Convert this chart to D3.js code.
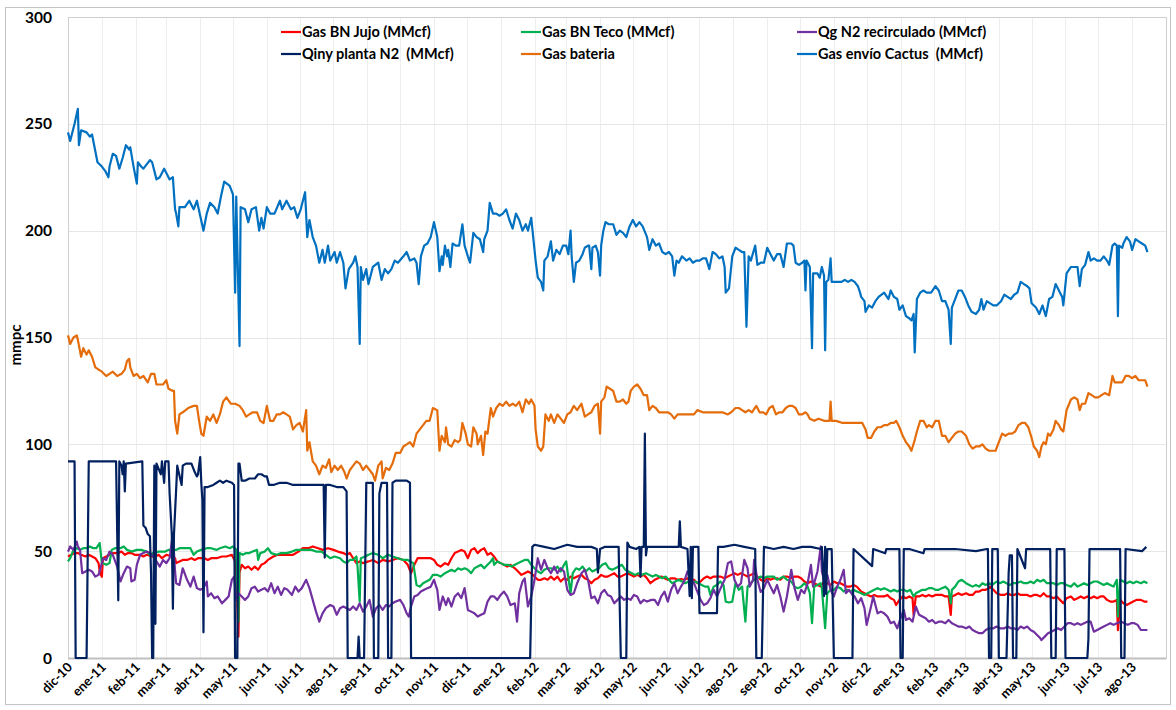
<!DOCTYPE html>
<html>
<head>
<meta charset="utf-8">
<script src="https://cdn.jsdelivr.net/npm/d3@7"></script>
<style>
  body { margin: 0; background: #fff; }
  text { font-family: Lato, "Liberation Sans", sans-serif; font-weight: bold; fill: #000; }
</style>
</head>
<body>
<svg id="chart" width="1176" height="710"></svg>
<script>
// days are counted from 1 dic 2010
var startDate = new Date(2010, 11, 1),
    endDate = new Date(2013, 8, 1);

var monthNames = ["ene", "feb", "mar", "abr", "may", "jun", "jul", "ago", "sep", "oct", "nov", "dic"];
var yTicks = [0, 50, 100, 150, 200, 250, 300];

var seriesNames = ["Gas BN Jujo (MMcf)", "Gas BN Teco (MMcf)", "Qg N2 recirculado (MMcf)",
                   "Qiny planta N2  (MMcf)", "Gas bateria", "Gas envío Cactus  (MMcf)"];
var seriesColors = ["#ff0000", "#00b050", "#7030a0", "#002060", "#e46c0a", "#0070c0"];

var jujo = [[0,47.5],[3,48.3],[6,49.1],[9,49.1],[12,48.3],[16,47.5],[19,48.3],[22,47.5],[25,46.7],[28,44.4],[29,40.5],[31,38],[32,46.7],[35,47.5],[38,48.3],[41,49.1],[46,49.1],[49,49.8],[52,48.3],[55,49.1],[58,49.1],[61,48.3],[66,48.3],[69,47.5],[72,48.3],[77,47.5],[80,47.5],[83,48.3],[86,46.7],[90,48.3],[95,47.5],[98,46.7],[99,44.4],[102,45.2],[105,45.9],[109,45.9],[113,46.7],[116,45.9],[119,46.7],[122,46.7],[125,46.7],[128,45.9],[131,46.7],[136,46.7],[141,47.5],[145,47.5],[150,48.3],[153,45.2],[154,40.5],[156,10],[157,40],[159,43.6],[162,42],[165,42.8],[168,41.3],[171,42.8],[174,41.3],[177,43.6],[180,44.4],[183,45.9],[188,47.5],[192,48.3],[197,48.3],[201,48.3],[206,48.3],[211,49.8],[215,51.4],[220,51.4],[224,52.2],[229,51.4],[233,50.6],[238,51.4],[243,50.6],[247,49.8],[252,49.1],[255,48.3],[258,49.1],[261,46.7],[264,44.4],[267,45.2],[270,44.4],[275,45.2],[279,45.9],[284,44.4],[288,45.9],[293,45.2],[297,45.9],[302,46.7],[307,45.9],[311,43.6],[314,39.7],[317,43.6],[320,46.7],[323,46.7],[328,46.7],[332,46.7],[335,45.9],
  [338,43.6],[341,42.8],[345,44.4],[348,43.6],[351,46.7],[354,49.1],[357,49.8],[360,50.6],[363,49.8],[366,46.7],[369,50.6],[372,51.4],[375,49.1],[378,50.6],[381,51.4],[384,48.3],[387,49.1],[390,47.5],[393,45.2],[396,44.4],[399,43.6],[402,42.8],[405,43.6],[409,42],[412,40.5],[415,38.9],[418,39.7],[421,40.5],[424,39.7],[427,38.1],[430,36.6],[433,36.6],[436,37.3],[439,36.6],[442,38.1],[445,36.6],[448,38.1],[451,35.8],[454,37.3],[457,36.6],[460,38.1],[463,37.3],[466,38.1],[470,38.9],[473,37.3],[476,36.6],[479,35],[482,36.6],[485,37.3],[488,38.9],[491,38.1],[494,38.1],[497,38.9],[500,39.7],[503,38.1],[506,38.1],[509,38.9],[512,39.7],[515,38.9],[518,38.1],[521,38.9],[524,38.1],[527,38.9],[530,37.3],[533,35],[537,36.6],[540,37.3],[543,38.1],[546,37.3],[549,36.6],[552,37.3],[555,37.3],[558,36.6],[561,37],[564,36.6],[567,37.3],[570,37],[573,36.6],[576,35],[579,35.8],[582,37.3],[585,38.1],[588,37.3],[591,38.1],[594,38.1],[597,38.1],[601,37.3],[604,38.1],[607,38.9],[610,39.7],[613,38.9],[616,39.7],[619,38.9],[622,38.1],[625,38.9],[628,39.7],[631,38.1],[634,36.6],[637,35.8],[640,37.3],[643,36.6],[646,37.3],[649,37.3],[652,36.6],[655,38.1],[658,38.1],[662,37.3],[665,38.1],[668,38.1],
  [671,37.3],[674,35.8],[677,35],[680,35.8],[683,35],[686,34.2],[689,33.4],[692,35.8],[695,35],[698,34.2],[701,35.8],[704,35],[707,35],[710,34.2],[713,33.4],[716,33.4],[719,34.2],[722,33.4],[726,31.1],[729,30.3],[732,29.5],[735,28.8],[738,29.5],[741,28.8],[744,28.8],[747,28.8],[750,29.5],[753,28],[756,27.2],[758,24.8],[761,27.2],[764,28.8],[767,28],[770,28.8],[773,28],[774,20.2],[776,28.8],[779,28.8],[782,29.5],[785,28.8],[788,29.5],[791,28.8],[794,29.5],[797,29.5],[800,29.5],[803,28.8],[806,28.8],[808,20.2],[809,28.8],[812,29.5],[815,30.3],[818,29.5],[822,30.3],[825,29.5],[828,29.5],[831,31.1],[834,31.1],[837,31.9],[840,31.9],[843,32.7],[844,33.4],[847,31.9],[850,30.3],[854,29.5],[857,29.5],[860,30.3],[863,29.5],[866,29.5],[869,30.3],[872,29.5],[875,29.5],[878,29.5],[881,28.8],[884,29.5],[887,29.5],[890,28.8],[893,30.3],[896,28.8],[899,28.8],[902,28],[905,28.8],[908,27.2],[911,25.6],[914,28],[918,28.8],[921,27.2],[924,28],[927,28.8],[930,28],[933,28.8],[936,28],[939,28.8],[942,28],[945,28.8],[948,28.8],[951,27.2],[954,26.4],[957,26.4],[960,27.2],[961,13],[963,27.2],[966,25.6],[969,24.8],[972,25.6],[975,26.4],[978,27.2],[982,27.2],[985,26.4],[988,26.4]];

var teco = [[0,45.2],[2,46.7],[5,50.6],[8,51.4],[11,50.6],[14,51.4],[17,51.4],[20,52.2],[23,51.4],[26,51.4],[29,53.8],[31,44.4],[32,44.4],[35,43.6],[38,44.4],[40,50.6],[43,51.4],[48,51.4],[51,52.2],[54,50.6],[58,49.8],[63,50.6],[67,50.6],[72,49.8],[75,48.3],[78,49.1],[83,49.8],[86,49.8],[89,49.8],[92,50.6],[96,50.6],[99,50.6],[102,51.4],[107,51.4],[112,51.4],[115,48.3],[118,49.8],[122,50.6],[127,51.4],[131,51.4],[136,50.6],[139,51.4],[144,52.2],[148,51.4],[151,52.2],[154,50.6],[156,17],[157,49.1],[160,48.3],[163,49.1],[166,49.1],[169,49.8],[173,50.6],[174,45.9],[176,49.1],[180,49.8],[183,51.4],[186,49.1],[191,48.3],[195,49.1],[200,49.1],[205,49.8],[209,50.6],[214,50.6],[218,50.6],[223,50.6],[227,49.8],[232,49.8],[236,48.3],[240,46.7],[244,47.5],[249,46.7],[252,45.2],[255,44.4],[258,45.9],[261,45.9],[264,47.5],[265,42.8],[267,26.4],[268,46.7],[272,47.5],[275,48.3],[279,49.1],[284,48.3],[288,46.7],[293,48.3],[297,47.5],[302,46.7],[307,45.9],[311,45.9],[316,44.4],[319,34.2],[322,33.4],[325,35],[328,35.8],[331,36.6],[334,38.9],
  [338,38.9],[341,38.1],[345,39.7],[348,40.5],[351,41.3],[354,40.5],[357,42],[360,41.3],[363,42],[366,41.3],[369,39.7],[372,42],[375,42.8],[378,43.6],[381,42],[384,43.6],[387,45.2],[389,46.7],[390,43.6],[393,45.2],[396,44.4],[399,43.6],[403,43.6],[406,42.8],[409,43.6],[412,44.4],[415,45.2],[418,45.9],[421,45.9],[424,43.6],[427,42],[430,40.5],[433,39.7],[436,41.3],[439,42],[442,42],[445,41.3],[448,42.8],[451,40.5],[454,43.6],[456,45.2],[457,41.3],[460,30.3],[462,39.7],[465,42],[468,41.3],[471,42.8],[474,40.5],[477,42],[480,40.5],[483,41.3],[486,42],[489,43.6],[492,44.4],[495,42],[498,41.3],[501,42],[504,42.8],[507,43.6],[510,41.3],[513,40.5],[516,39.7],[519,38.9],[522,39.7],[525,38.9],[529,39.7],[532,38.9],[535,38.1],[538,38.9],[541,38.1],[544,37.3],[547,38.1],[550,36.6],[553,35],[556,35.8],[559,36.6],[562,35.8],[565,35],[568,35.8],[571,35],[574,35.8],[577,35],[580,34.2],[583,33.4],[586,33.4],[588,29.5],[591,33.4],[594,34.2],[597,35.8],[600,34.2],[602,26.4],[605,26],[608,26.4],[611,35],[614,31.9],[617,33.4],[620,17],[622,33.4],[625,35],[628,36.6],[631,37.3],[634,38.1],[637,37.3],[640,38.1],[643,38.1],[646,38.1],[649,36.6],[652,37.3],[655,38.1],[658,36.6],[662,35.8],[665,33.4],[668,32.7],
  [671,33.4],[674,35],[677,33.4],[679,30.3],[681,16.3],[683,33.4],[686,34.2],[689,35],[690,32.7],[693,14],[695,30.3],[698,31.9],[701,31.9],[704,33.4],[707,32.7],[710,31.1],[713,31.9],[716,31.1],[719,31.9],[722,31.1],[726,30.3],[729,29.5],[732,30.3],[735,31.1],[738,31.9],[741,32.7],[744,31.9],[747,32.7],[750,31.9],[753,31.1],[756,31.9],[759,31.1],[762,31.9],[765,31.9],[768,31.1],[771,31.9],[774,28.8],[776,30.3],[779,31.1],[782,31.9],[785,31.9],[788,32.7],[791,32.7],[794,31.9],[797,31.9],[800,32.7],[803,33.4],[806,31.9],[808,25.6],[809,31.9],[812,33.4],[815,35.8],[818,36.6],[822,35],[825,34.2],[828,33.4],[831,34.2],[834,33.4],[837,35],[840,34.2],[843,35],[846,34.2],[850,35.8],[853,35],[856,35.8],[859,35],[862,34.2],[865,35],[868,35],[872,35.8],[875,35],[878,35],[881,35.8],[884,35],[887,36.6],[890,35.8],[893,36.6],[896,35],[899,35],[902,35],[905,34.2],[908,35],[911,35],[914,34.2],[918,33.4],[921,35],[924,33.4],[927,34.2],[930,35],[933,34.2],[936,35],[939,35.8],[942,35.8],[945,35],[948,34.2],[951,35],[954,34.2],[957,33.4],[960,36.6],[961,19.4],[963,36.6],[966,35.8],[969,35],[972,35.8],[975,35],[978,35.8],[982,35],[985,35.8],[988,35]];

var recirculado = [[0,49.8],[2,52.2],[5,50.6],[8,54.5],[9,52.2],[11,50.6],[13,39.7],[16,40.5],[19,41.3],[22,40.5],[25,38.1],[28,38.9],[31,44.4],[32,46.7],[35,45.9],[38,49.8],[41,48.3],[45,42.8],[48,35.8],[51,39.7],[54,42.8],[57,42],[58,35.8],[61,36.6],[63,43.6],[66,48.3],[69,49.1],[72,49.8],[75,49.1],[78,47.5],[81,45.2],[84,42.8],[87,45.9],[90,44.4],[93,46.7],[96,58.4],[98,40.5],[99,35],[102,34.2],[105,42],[109,36.6],[112,33.4],[115,38.1],[118,32.7],[121,31.9],[124,32.7],[127,35.8],[128,28.8],[131,30.3],[134,28],[137,28.8],[141,25.6],[144,27.2],[147,28.8],[150,36.6],[152,38.1],[154,27.2],[156,30.3],[159,28.8],[162,27.2],[165,28.8],[168,32.7],[171,33.4],[174,31.1],[177,31.9],[180,32.7],[183,31.1],[186,35],[189,30.3],[192,33.4],[195,29.5],[198,32.7],[201,31.9],[205,29.5],[208,33.4],[211,31.1],[214,32.7],[218,36.6],[221,32.7],[224,27.2],[227,21.7],[230,17],[233,20.9],[236,23.3],[240,24.8],[243,24.1],[246,20.2],[249,23.3],[252,24.1],[255,23.3],[258,22.5],[261,24.1],[264,22.5],[267,25.6],[270,21.7],[273,24.1],[276,27.2],[279,19.4],[282,23.3],[285,24.8],[288,22.5],[291,24.8],[294,24.1],[297,25.6],[300,26.4],[304,27.2],[307,24.8],[310,20.9],[312,19.4],[314,24.1],[317,28.8],[320,29.5],[323,31.1],[326,31.9],[329,32.7],[332,33.4],[335,36.6],
  [338,31.9],[340,22.5],[343,28.8],[346,24.8],[348,28],[351,24.1],[354,28.8],[357,30.3],[360,28],[363,32.7],[366,22.5],[369,21.7],[372,20.9],[375,19.4],[378,20.2],[381,20.9],[384,26.4],[387,28.8],[390,28.8],[393,27.2],[396,29.5],[399,31.1],[402,28.8],[405,24.8],[409,25.6],[411,17],[413,30.3],[416,35.8],[418,37.3],[421,24.1],[424,28.8],[427,36.6],[430,46.7],[433,41.3],[436,45.9],[439,42],[442,39.7],[445,42.8],[448,39.7],[451,42],[454,40.5],[457,31.9],[460,29.5],[463,30.3],[466,35],[470,39.7],[473,41.3],[476,36.6],[479,28],[482,28.8],[485,25.6],[488,30.3],[491,31.9],[494,29.5],[497,28.8],[500,25.6],[503,27.2],[506,28.8],[509,27.2],[512,28],[515,27.2],[518,29.5],[521,28.8],[524,25.6],[527,27.2],[530,26.4],[534,27.2],[537,27.2],[540,24.8],[543,28.8],[546,31.1],[549,26.4],[552,31.9],[555,35],[558,30.3],[561,33.4],[564,35.8],[567,40.5],[570,37.3],[573,35],[576,31.1],[579,27.2],[582,24.8],[585,25.6],[588,28],[591,31.9],[594,28.8],[598,33.4],[601,36.6],[604,44.4],[607,45.2],[610,36.6],[613,33.4],[616,35],[619,45.9],[622,42],[624,33.4],[627,36.6],[628,45.9],[631,36.6],[634,30.9],[637,32.7],[640,36.6],[643,33.4],[646,30.3],[649,34.2],[652,28.8],[655,21.7],[658,28.8],[662,41.3],[665,32.7],[668,27.2],
  [671,31.9],[674,30.3],[677,35],[680,43.6],[682,33.4],[686,40.5],[689,52.2],[690,40.5],[692,36.6],[695,38.9],[698,31.9],[701,28.8],[704,33.4],[707,36.6],[710,41.3],[712,30.3],[715,31.9],[718,29.5],[720,28.8],[723,25.6],[726,28],[729,23.3],[731,15.5],[735,24.1],[737,28.8],[741,20.9],[744,21.7],[747,20.9],[750,19.4],[753,16.3],[756,17],[759,13.9],[762,18.6],[765,22.5],[767,17.8],[770,18.6],[773,17],[776,24.1],[779,20.2],[782,19.4],[785,18.6],[788,17],[791,17.8],[794,16.3],[797,17],[800,17],[803,16.3],[806,17.8],[809,16.3],[812,15.5],[815,14.7],[818,14.7],[822,13.9],[825,14.7],[828,13.1],[831,12.3],[834,11.6],[837,11.6],[840,13.1],[843,13.9],[847,13.9],[850,14.7],[853,13.9],[857,13.9],[860,14.7],[863,13.9],[866,13.9],[869,13.1],[872,14.7],[875,13.9],[878,14.7],[881,13.1],[884,12.3],[887,10.8],[890,9.2],[891,8.4],[894,10],[897,11.6],[900,12.3],[903,13.1],[906,13.9],[909,13.1],[912,14.7],[915,16.3],[918,16.3],[921,15.5],[924,16.3],[927,15.5],[930,16.3],[933,17],[936,17],[939,12.3],[942,13.1],[945,13.9],[948,14.7],[951,15.5],[954,16.3],[957,15.5],[960,16.3],[964,17],[967,16.3],[970,15.5],[973,16.3],[976,16.3],[979,15.5],[982,13.1],[985,13.1],[988,13.1]];

var plantaN2 = [[0,92],[6,92],[7,0],[17,0],[19,92],[44,92],[46,27],[47,92],[49,90],[50,86],[51,92],[52,78],[53,91],[68,92],[69,62],[71,61],[73,58],[75,57],[76,40],[77,0],[78,0],[79,90],[80,16],[81,91],[85,86],[86,92],[88,82],[89,92],[92,92],[93,77],[95,58],[96,23],[97,58],[99,79],[100,90],[104,81],[105,90],[108,91],[113,91],[116,87],[118,85],[119,86],[121,94],[122,82],[123,74],[124,12],[125,80],[128,80],[133,81],[136,82],[139,83],[142,82],[145,83],[150,82],[152,81],[153,0],[155,0],[156,91],[157,91],[159,83],[162,83],[166,84],[171,84],[174,86],[177,86],[180,85],[182,85],[184,81],[188,81],[194,82],[200,82],[206,81],[212,81],[218,81],[224,81],[230,81],[234,81],[235,47],[236,81],[240,81],[246,80],[252,80],[255,78],[256,0],[265,0],[266,10],[267,0],[271,0],[273,82],[276,82],[279,82],[280,0],[284,0],[285,77],[287,82],[290,82],[292,82],[293,0],[296,0],[297,82],[300,83],[310,83],[313,82],[314,0],
  [423,0],[425,52],[427,53],[436,52],[445,51],[457,53],[466,52],[479,52],[484,51],[485,40],[487,51],[491,52],[500,52],[504,52],[505,24],[506,0],[511,0],[512,54],[514,52],[520,51],[523,52],[524,38],[525,52],[527,52],[528,105],[529,48],[530,52],[540,52],[552,52],[559,52],[560,64],[561,52],[567,51],[569,29],[570,52],[571,28],[572,52],[577,52],[578,21],[594,21],[595,52],[600,52],[610,53],[619,52],[629,51],[630,0],[635,0],[637,52],[646,51],[655,52],[664,51],
  [672,52],[680,52],[689,51],[690,52],[692,29],[693,52],[694,30],[695,51],[699,51],[700,25],[701,0],[718,0],[719,51],[736,43],[737,51],[748,49],[749,51],[761,51],[762,0],[764,0],[765,51],[770,51],[783,49],[784,51],[800,51],[812,51],[831,50],[841,51],[842,51],[843,0],[845,0],[846,51],[851,51],[852,0],[859,0],[861,40],[862,48],[864,48],[865,0],[868,0],[869,51],[876,42],[877,51],[899,51],[900,0],[904,0],[905,51],[912,51],[913,0],[933,0],[934,9],[935,51],[963,51],[964,0],[967,0],[968,51],[983,50],[987,52]];

var bateria = [[0,151],[2,147],[5,150],[8,151],[9,149],[12,141],[14,145],[17,142],[19,144],[22,141],[25,136],[28,135],[31,134],[35,132],[38,133],[41,134],[45,132],[49,133],[52,135],[54,139],[56,140],[57,136],[60,132],[63,133],[66,131],[69,132],[73,129],[76,133],[79,133],[81,128],[84,128],[87,128],[90,130],[92,126],[96,125],[97,125],[98,111],[100,105],[102,114],[105,115],[110,117],[115,118],[118,118],[120,111],[122,105],[124,104],[127,113],[130,111],[133,114],[136,110],[139,114],[142,120],[145,122],[149,119],[153,119],[157,118],[160,116],[163,113],[166,114],[169,115],[173,115],[176,111],[179,110],[182,118],[185,111],[188,111],[191,114],[194,114],[197,115],[200,114],[203,113],[206,107],[209,109],[212,110],[215,106],[218,116],[219,97],[221,101],[224,92],[227,90],[230,86],[233,90],[236,89],[239,93],[241,87],[244,90],[247,88],[250,90],[253,87],[255,84],[258,88],[261,90],[264,92],[267,91],[270,88],[273,90],[276,88],[279,86],[281,83],[284,90],[287,92],[288,84],[291,89],[294,88],[297,91],[300,96],[304,96],[307,99],[310,100],[313,101],[316,99],[319,105],[322,107],[325,109],[328,111],[331,111],[334,117],
  [338,116],[340,97],[342,104],[345,101],[346,108],[348,100],[351,99],[354,102],[357,101],[359,102],[361,110],[364,105],[366,100],[369,99],[371,108],[374,105],[375,100],[378,104],[380,95],[382,106],[384,105],[387,117],[389,113],[392,117],[395,119],[398,118],[401,120],[404,118],[407,119],[410,118],[413,120],[416,115],[419,121],[422,119],[424,121],[427,118],[428,107],[430,99],[433,97],[435,99],[437,114],[440,111],[442,114],[445,110],[448,114],[451,112],[454,110],[457,114],[460,115],[463,118],[466,116],[470,119],[473,113],[476,114],[479,115],[482,118],[485,119],[487,105],[488,120],[491,122],[493,127],[496,126],[499,125],[502,120],[505,120],[508,121],[511,119],[513,120],[515,125],[518,127],[521,128],[524,126],[527,123],[530,123],[532,116],[535,118],[538,117],[541,115],[544,115],[549,115],[552,114],[555,112],[558,114],[562,114],[567,114],[570,114],[573,114],[576,116],[581,115],[584,115],[587,115],[591,115],[596,115],[599,115],[604,114],[607,115],[611,117],[614,117],[617,116],[620,115],[623,116],[626,115],[630,118],[633,115],[636,115],[639,114],[642,117],[645,118],[648,114],[651,115],[654,115],[657,117],[660,118],[663,118],[666,117],[669,114],
  [672,114],[675,115],[677,114],[679,112],[683,111],[687,112],[692,111],[695,111],[697,111],[698,120],[699,111],[703,111],[709,110],[715,110],[721,110],[727,110],[730,107],[732,103],[735,103],[738,106],[741,108],[744,108],[747,109],[750,109],[753,110],[756,110],[758,111],[761,108],[764,104],[767,101],[770,99],[772,97],[775,102],[777,106],[780,111],[783,111],[786,108],[788,109],[791,108],[794,111],[797,111],[800,104],[803,104],[806,101],[809,103],[812,105],[815,106],[818,106],[822,104],[825,100],[828,98],[831,99],[834,99],[837,100],[840,98],[843,97],[846,97],[849,97],[852,101],[855,105],[858,104],[861,105],[864,105],[867,106],[870,109],[873,110],[876,110],[879,108],[882,103],[884,99],[887,97],[889,94],[891,99],[893,101],[895,100],[897,105],[899,104],[902,107],[904,111],[907,109],[909,107],[911,106],[914,116],[918,121],[921,122],[924,121],[926,116],[928,119],[931,119],[934,124],[937,123],[940,122],[943,122],[946,123],[949,124],[953,123],[956,132],[958,129],[962,129],[965,129],[968,132],[971,132],[974,131],[977,132],[980,130],[983,130],[986,130],[988,127]];

var cactus = [[0,246],[2,242],[6,250],[9,257],[10,240],[12,247],[17,246],[20,244],[22,245],[27,232],[31,230],[34,228],[37,225],[38,230],[41,236],[44,235],[47,229],[50,234],[53,240],[56,238],[57,239],[60,230],[63,222],[64,232],[67,230],[69,229],[72,231],[75,233],[77,232],[81,224],[84,225],[88,229],[90,227],[93,224],[96,225],[98,210],[99,208],[101,202],[102,211],[107,211],[111,214],[115,210],[118,214],[121,207],[124,200],[127,208],[130,213],[134,211],[137,208],[140,216],[143,223],[148,221],[151,217],[153,171],[154,216],[157,146],[158,211],[162,210],[165,204],[168,210],[172,211],[175,200],[177,206],[179,201],[182,211],[185,208],[189,208],[194,214],[196,210],[200,214],[204,210],[207,211],[210,206],[213,210],[217,218],[219,197],[221,205],[224,197],[227,193],[230,185],[233,191],[235,185],[238,193],[240,186],[244,190],[246,185],[249,190],[252,185],[254,173],[257,182],[261,185],[263,188],[265,183],[267,147],[268,183],[270,177],[273,182],[275,175],[279,183],[284,185],[287,177],[290,182],[293,180],[296,182],[299,186],[302,185],[307,188],[310,190],[313,186],[317,187],[319,185],[321,175],[323,188],[326,193],[329,194],[332,197],[335,204],
  [338,197],[340,181],[342,188],[343,184],[345,193],[347,188],[348,191],[350,183],[352,194],[355,193],[358,193],[361,203],[363,193],[366,188],[368,185],[371,199],[374,197],[377,196],[380,190],[381,196],[384,200],[386,213],[389,208],[392,208],[395,207],[398,208],[401,210],[404,205],[407,201],[410,208],[413,205],[416,200],[419,203],[421,200],[424,206],[425,201],[428,186],[430,178],[433,176],[435,172],[436,186],[439,188],[442,195],[444,186],[447,191],[450,189],[453,193],[456,193],[458,189],[460,200],[461,188],[463,176],[465,185],[468,186],[471,189],[473,192],[476,193],[477,193],[479,182],[480,192],[483,193],[485,190],[487,179],[488,193],[490,200],[492,204],[495,203],[499,203],[502,198],[505,200],[508,199],[511,197],[514,202],[517,205],[520,202],[523,204],[526,202],[530,197],[532,191],[535,196],[538,193],[541,194],[544,190],[547,189],[550,190],[553,188],[555,179],[557,186],[559,185],[562,188],[566,186],[569,187],[572,185],[575,186],[578,186],[581,187],[584,187],[587,182],[590,190],[593,189],[596,187],[599,188],[601,183],[602,171],[605,173],[608,188],[611,192],[614,191],[617,190],[619,190],[621,155],[623,188],[625,186],[629,193],[631,184],[634,185],[637,185],[640,192],[643,189],[646,186],[649,189],[652,189],[655,183],[658,194],[662,194],[664,193],[666,185],[669,184],
  [672,185],[674,186],[675,172],[676,186],[678,184],[679,183],[681,145],[682,180],[686,180],[688,178],[690,183],[692,179],[693,144],[694,176],[696,177],[698,187],[699,176],[702,176],[705,176],[708,176],[711,177],[714,176],[717,177],[720,176],[723,174],[725,171],[726,169],[729,167],[730,162],[733,165],[736,164],[739,167],[742,169],[747,171],[751,168],[753,172],[756,169],[759,168],[761,163],[764,165],[767,160],[770,159],[772,158],[774,161],[775,143],[777,168],[780,171],[783,172],[786,171],[790,171],[794,174],[797,172],[800,167],[803,167],[806,163],[808,147],[809,164],[812,168],[815,172],[818,172],[821,169],[824,165],[827,162],[831,161],[834,163],[836,168],[838,163],[841,167],[844,166],[847,165],[850,165],[854,167],[857,170],[860,169],[863,168],[866,170],[869,171],[872,176],[875,175],[878,174],[880,173],[882,166],[886,164],[889,161],[892,165],[895,160],[898,168],[901,169],[904,175],[907,172],[910,169],[911,165],[914,180],[918,183],[921,183],[924,183],[926,174],[928,182],[931,184],[934,190],[936,186],[939,187],[942,186],[945,186],[948,188],[951,186],[953,184],[956,193],[958,194],[960,193],[961,160],[962,193],[965,192],[966,194],[969,197],[972,195],[974,191],[977,196],[980,195],[983,194],[986,193],[988,190]];

var seriesData = [jujo, teco, recirculado, plantaN2, bateria, cactus];

var svg = d3.select("#chart"),
    plotLeft = 68, plotRight = 1166, plotTop = 17, plotBottom = 658;

svg.append("rect")
    .attr("x", 0).attr("y", 0).attr("width", 1176).attr("height", 710)
    .attr("fill", "#fff");

// chart border
svg.append("rect")
    .attr("x", 5.5).attr("y", 7.5).attr("width", 1165).attr("height", 697)
    .attr("fill", "none").attr("stroke", "#c4c4c4");

var x = d3.scaleTime().domain([startDate, endDate]).range([plotLeft, plotRight]);
var y = d3.scaleLinear().domain([0, 300]).range([plotBottom, plotTop]);

var months = d3.timeMonth.range(startDate, endDate);

// gridlines
svg.append("g")
    .selectAll("line")
    .data(months.slice(1))
    .enter()
    .append("line")
    .attr("x1", function (d) { return Math.round(x(d)) + 0.5; })
    .attr("x2", function (d) { return Math.round(x(d)) + 0.5; })
    .attr("y1", plotTop).attr("y2", plotBottom)
    .attr("stroke", "#eeeeee");

svg.append("g")
    .selectAll("line")
    .data(yTicks.slice(1, -1))
    .enter()
    .append("line")
    .attr("x1", plotLeft).attr("x2", plotRight)
    .attr("y1", function (d) { return Math.round(y(d)) + 0.5; })
    .attr("y2", function (d) { return Math.round(y(d)) + 0.5; })
    .attr("stroke", "#e6e6e6");

// plot area frame
svg.append("rect")
    .attr("x", plotLeft + 0.5).attr("y", plotTop + 0.5)
    .attr("width", plotRight - plotLeft).attr("height", plotBottom - plotTop)
    .attr("fill", "none").attr("stroke", "#cfcfcf");

svg.append("line")
    .attr("x1", plotLeft).attr("x2", plotRight)
    .attr("y1", plotBottom + 0.5).attr("y2", plotBottom + 0.5)
    .attr("stroke", "#bfbfbf").attr("stroke-width", 2);

// Y labels
svg.append("g")
    .selectAll("text")
    .data(yTicks)
    .enter()
    .append("text")
    .attr("x", 52)
    .attr("y", function (d) { return y(d); })
    .attr("dy", "0.36em")
    .attr("text-anchor", "end")
    .attr("font-size", "15.5px")
    .text(function (d) { return d; });

svg.append("text")
    .attr("transform", "translate(21,345) rotate(-90)")
    .attr("text-anchor", "middle")
    .attr("font-size", "15px")
    .text("mmpc");

// X labels
svg.append("g")
    .selectAll("text")
    .data(months)
    .enter()
    .append("text")
    .attr("transform", function (d) { return "translate(" + (x(d) + 5) + ",668) rotate(-45)"; })
    .attr("text-anchor", "end")
    .attr("font-size", "13px")
    .text(function (d) { return monthNames[d.getMonth()] + "-" + String(d.getFullYear()).slice(2); });

// series
var line = d3.line()
    .x(function (d) { return x(d3.timeDay.offset(startDate, d[0])); })
    .y(function (d) { return y(d[1]); });

svg.append("g")
    .selectAll("path")
    .data(seriesData)
    .enter()
    .append("path")
    .attr("d", line)
    .attr("fill", "none")
    .attr("stroke", function (d, i) { return seriesColors[i]; })
    .attr("stroke-width", 2.2)
    .attr("stroke-linejoin", "round");

// legend
var legendX = [281, 521, 797], legendY = [32, 54];
var legend = svg.append("g")
    .selectAll("g")
    .data(seriesNames)
    .enter()
    .append("g")
    .attr("transform", function (d, i) { return "translate(" + legendX[i % 3] + "," + legendY[Math.floor(i / 3)] + ")"; });

legend.append("line")
    .attr("x1", 0).attr("x2", 20)
    .attr("stroke", function (d, i) { return seriesColors[i]; })
    .attr("stroke-width", 2.2);

legend.append("text")
    .attr("x", 21)
    .attr("dy", "0.36em")
    .attr("font-size", "14.5px")
    .style("white-space", "pre")
    .text(function (d) { return d; });
</script>
</body>
</html>
